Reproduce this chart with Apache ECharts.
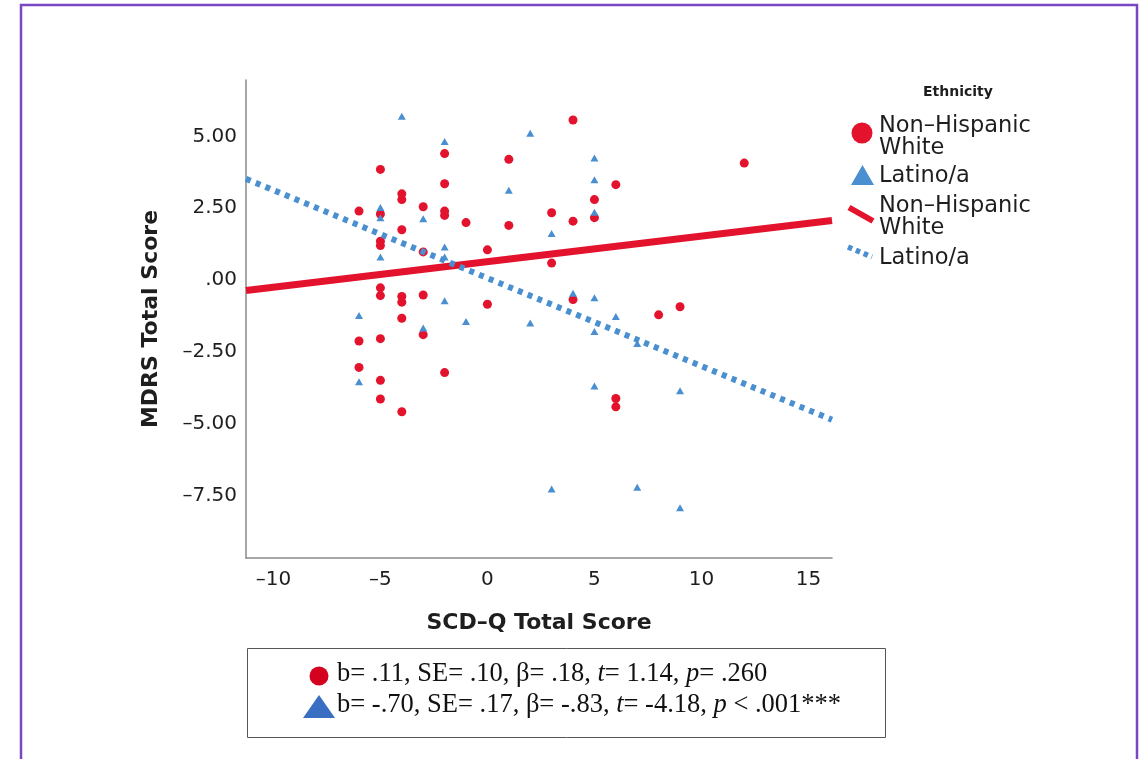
<!DOCTYPE html>
<html>
<head>
<meta charset="utf-8">
<script src="https://cdn.jsdelivr.net/npm/echarts@6/dist/echarts.min.js"></script>
<style>
  html, body { margin: 0; padding: 0; background: #ffffff; }
  #chart { width: 1145px; height: 759px; }
</style>
</head>
<body>
<div id="chart"></div>
<script>
// Tick positions on both axes
const xTicks = [-10, -5, 0, 5, 10, 15];
const yTicks = [-7.5, -5, -2.5, 0, 2.5, 5];

// Individual scores: [SCD-Q total, MDRS total]
const whiteScores = [
  [-2, 4.4], [1, 4.2], [-5, 3.85], [-2, 3.35], [-4, 3.0], [-4, 2.8], [-3, 2.55],
  [-6, 2.4], [-5, 2.3], [-2, 2.4], [-2, 2.25], [-1, 2.0], [1, 1.9], [-4, 1.75],
  [-5, 1.35], [-5, 1.2], [0, 1.05], [-3, 0.98], [-5, -0.27], [-5, -0.54],
  [-4, -0.57], [-4, -0.77], [-3, -0.52], [0, -0.84], [-4, -1.33], [-3, -1.9],
  [-6, -2.12], [-5, -2.04], [-6, -3.04], [-5, -3.49], [-2, -3.22], [-5, -4.14],
  [-4, -4.58], [4, 5.57], [12, 4.07], [6, 3.32], [5, 2.8], [5, 2.17], [3, 2.34],
  [4, 2.05], [3, 0.59], [4, -0.68], [8, -1.21], [9, -0.93], [6, -4.12], [6, -4.41]
];
const latinoScores = [
  [-4, 5.7], [-2, 4.82], [2, 5.11], [1, 3.12], [-5, 2.52], [-5, 2.17], [-3, 2.13],
  [-2, 1.15], [-5, 0.8], [-2, 0.8], [-2, -0.72], [-6, -1.23], [-1, -1.44],
  [2, -1.49], [-3, -1.67], [-6, -3.54], [5, 4.25], [5, 3.49], [5, 2.36], [3, 1.62],
  [4, -0.46], [5, -0.62], [6, -1.27], [5, -1.79], [7, -2.21], [5, -3.69],
  [9, -3.85], [3, -7.27], [7, -7.21], [9, -7.92]
];

// Fitted regression lines, end points across the x range
const whiteFit = [[-11.28, -0.36], [16.1, 2.07]];
const latinoFit = [[-11.28, 3.52], [16.1, -4.86]];

// Text
const groupNames = ['Non–Hispanic\nWhite', 'Latino/a'];
const legendTitle = 'Ethnicity';
const xTitle = 'SCD–Q Total Score';
const yTitle = 'MDRS Total Score';
const statLines = [
  '{n|b= .11, SE= .10, β= .18, }{i|t}{n|= 1.14, }{i|p}{n|= .260}',
  '{n|b= -.70, SE= .17, β= -.83, }{i|t}{n|= -4.18, }{i|p}{n| < .001***}'
];

const RED = '#e3132d';
const BLUE = '#4a8fd0';
const INK = '#1e1e1e';
const SANS = 'DejaVu Sans';
const SERIF = 'Liberation Serif';

function yLabel(v) {
  const s = Math.abs(v).toFixed(2).replace(/^0/, '');
  return (v < 0 ? '–' : '') + s;
}

const statRich = {
  n: { fontFamily: SERIF, fontSize: 26.5, fill: '#111' },
  i: { fontFamily: SERIF, fontSize: 26.5, fontStyle: 'italic', fill: '#111' }
};

const chart = echarts.init(document.getElementById('chart'), null, { renderer: 'canvas' });

const option = {
  backgroundColor: '#ffffff',
  animation: false,
  grid: { left: 246, right: 313, top: 80, bottom: 201, containLabel: false },
  xAxis: {
    type: 'value',
    min: -11.28,
    max: 16.1,
    name: xTitle,
    nameLocation: 'middle',
    nameGap: 54,
    nameTextStyle: { fontFamily: SANS, fontSize: 22, fontWeight: 'bold', color: INK },
    axisLine: { show: true, onZero: false, lineStyle: { color: '#8a8a8a', width: 1.5 } },
    axisTick: { show: false },
    splitLine: { show: false },
    axisLabel: {
      customValues: xTicks,
      margin: 12,
      fontFamily: SANS,
      fontSize: 20,
      color: INK,
      formatter: v => (v < 0 ? '–' : '') + Math.abs(v)
    }
  },
  yAxis: {
    type: 'value',
    min: -9.67,
    max: 6.96,
    name: yTitle,
    nameLocation: 'middle',
    nameRotate: 90,
    nameGap: 84,
    nameTextStyle: { fontFamily: SANS, fontSize: 22, fontWeight: 'bold', color: INK },
    axisLine: { show: true, onZero: false, lineStyle: { color: '#8a8a8a', width: 1.5 } },
    axisTick: { show: false },
    splitLine: { show: false },
    axisLabel: {
      customValues: yTicks,
      margin: 9,
      fontFamily: SANS,
      fontSize: 20,
      color: INK,
      formatter: yLabel
    }
  },
  series: [
    {
      name: 'white-points',
      type: 'scatter',
      data: whiteScores,
      symbol: 'circle',
      symbolSize: 9,
      itemStyle: { color: RED, opacity: 1 },
      z: 2
    },
    {
      name: 'latino-points',
      type: 'scatter',
      data: latinoScores,
      symbol: 'triangle',
      symbolSize: [8, 7],
      itemStyle: { color: BLUE, opacity: 1 },
      z: 2
    },
    {
      name: 'white-fit',
      type: 'line',
      data: whiteFit,
      showSymbol: false,
      symbol: 'none',
      lineStyle: { color: RED, width: 7, cap: 'butt' },
      z: 3
    },
    {
      name: 'latino-fit',
      type: 'line',
      data: latinoFit,
      showSymbol: false,
      symbol: 'none',
      lineStyle: { color: BLUE, width: 6, type: [5, 5.5], cap: 'butt' },
      z: 4
    }
  ],
  graphic: [
    // page frame
    {
      type: 'rect',
      shape: { x: 21, y: 5, width: 1116, height: 820 },
      style: { fill: null, stroke: '#7b46c2', lineWidth: 2.5 },
      silent: true
    },
    // group key
    {
      type: 'text', left: 923, top: 85,
      style: { text: legendTitle, font: 'bold 14px "DejaVu Sans"', fill: INK }
    },
    {
      type: 'circle', shape: { cx: 862, cy: 133, r: 10.5 },
      style: { fill: RED }
    },
    {
      type: 'text', left: 879, top: 115,
      style: { text: groupNames[0], font: '22.5px "DejaVu Sans"', lineHeight: 22, fill: INK }
    },
    {
      type: 'polygon', shape: { points: [[851, 185], [874, 185], [862.5, 165]] },
      style: { fill: BLUE }
    },
    {
      type: 'text', left: 879, top: 165,
      style: { text: groupNames[1], font: '22.5px "DejaVu Sans"', lineHeight: 22, fill: INK }
    },
    {
      type: 'line', shape: { x1: 849, y1: 207.5, x2: 873, y2: 221 },
      style: { stroke: RED, lineWidth: 6 }
    },
    {
      type: 'text', left: 879, top: 195,
      style: { text: groupNames[0], font: '22.5px "DejaVu Sans"', lineHeight: 22, fill: INK }
    },
    {
      type: 'line', shape: { x1: 848, y1: 247, x2: 872, y2: 257 },
      style: { stroke: BLUE, lineWidth: 5.5, lineDash: [4.5, 4] }
    },
    {
      type: 'text', left: 879, top: 247,
      style: { text: groupNames[1], font: '22.5px "DejaVu Sans"', lineHeight: 22, fill: INK }
    },
    // regression statistics box
    {
      type: 'rect',
      shape: { x: 247.5, y: 648.5, width: 638, height: 89 },
      style: { fill: '#ffffff', stroke: '#555555', lineWidth: 1 }
    },
    {
      type: 'circle', shape: { cx: 319, cy: 676, r: 9.5 },
      style: { fill: '#d4021f' }
    },
    {
      type: 'polygon', shape: { points: [[303, 718], [335, 718], [319, 695]] },
      style: { fill: '#3a6ec2' }
    },
    {
      type: 'text', left: 337, top: 661,
      style: { text: statLines[0], rich: statRich }
    },
    {
      type: 'text', left: 337, top: 692,
      style: { text: statLines[1], rich: statRich }
    }
  ]
};

chart.setOption(option);
</script>
</body>
</html>
